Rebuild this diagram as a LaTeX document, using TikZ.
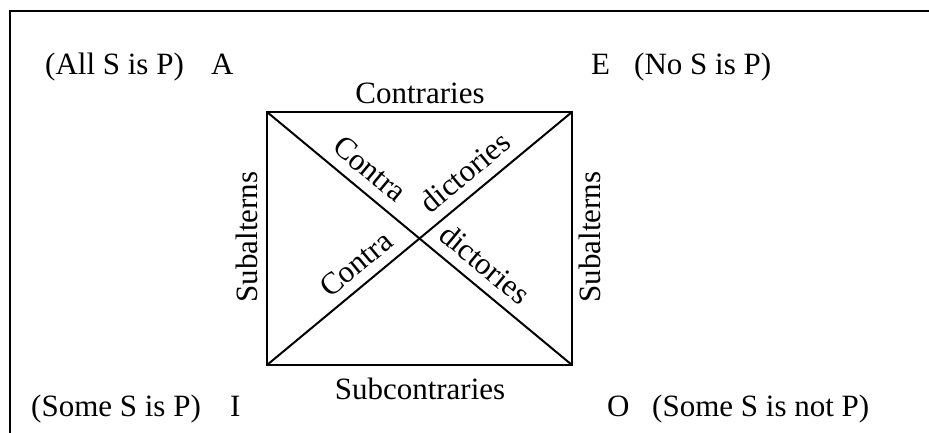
\documentclass[tikz,border=0pt]{standalone}
\usepackage{fontspec}
\setmainfont{Liberation Serif}
\begin{document}
\begin{tikzpicture}[x=1pt,y=-1pt,
  lbl/.style={inner sep=0pt, font=\fontsize{31}{34}\selectfont},
  edge/.style={line width=2pt, line join=miter},
  frame/.style={line width=2.5pt}]
\useasboundingbox (0,0) rectangle (929,433);
\draw[frame] (10,433) -- (10,11) -- (929,11);
% corners
\coordinate (cA) at (267,112);
\coordinate (cE) at (572,112);
\coordinate (cI) at (267,365);
\coordinate (cO) at (572,365);
\draw[edge] (cA) -- (cE) -- (cO) -- (cI) -- cycle;
\draw[edge] (cA) -- (cO);
\draw[edge] (cI) -- (cE);
% corner labels
\node[lbl, anchor=base west] (tA) at (45,75) {(All S is P)};
\node[lbl, anchor=base west] (lA) at (211,75) {A};
\node[lbl, anchor=base west] (lE) at (591,75) {E};
\node[lbl, anchor=base west] (tE) at (634,75) {(No S is P)};
\node[lbl, anchor=base west] (tI) at (31,416) {(Some S is P)};
\node[lbl, anchor=base west] (lI) at (230,416) {I};
\node[lbl, anchor=base west] (lO) at (607,416) {O};
\node[lbl, anchor=base west] (tO) at (652,416) {(Some S is not P)};
% side labels
\node[lbl, anchor=base] (contr) at (420,104) {Contraries};
\node[lbl, anchor=base] (subc) at (420,399) {Subcontraries};
\node[lbl, rotate=90] (subl) at (247,237) {Subalterns};
\node[lbl, rotate=90] (subr) at (590,237) {Subalterns};
% diagonal labels
\node[lbl, rotate=-39.7] (c1) at (370,169) {Contra};
\node[lbl, rotate=39.7] (d1) at (465,172) {dictories};
\node[lbl, rotate=39.7] (c2) at (356,264) {Contra};
\node[lbl, rotate=-39.7] (d2) at (485,264) {dictories};
\end{tikzpicture}
\end{document}
